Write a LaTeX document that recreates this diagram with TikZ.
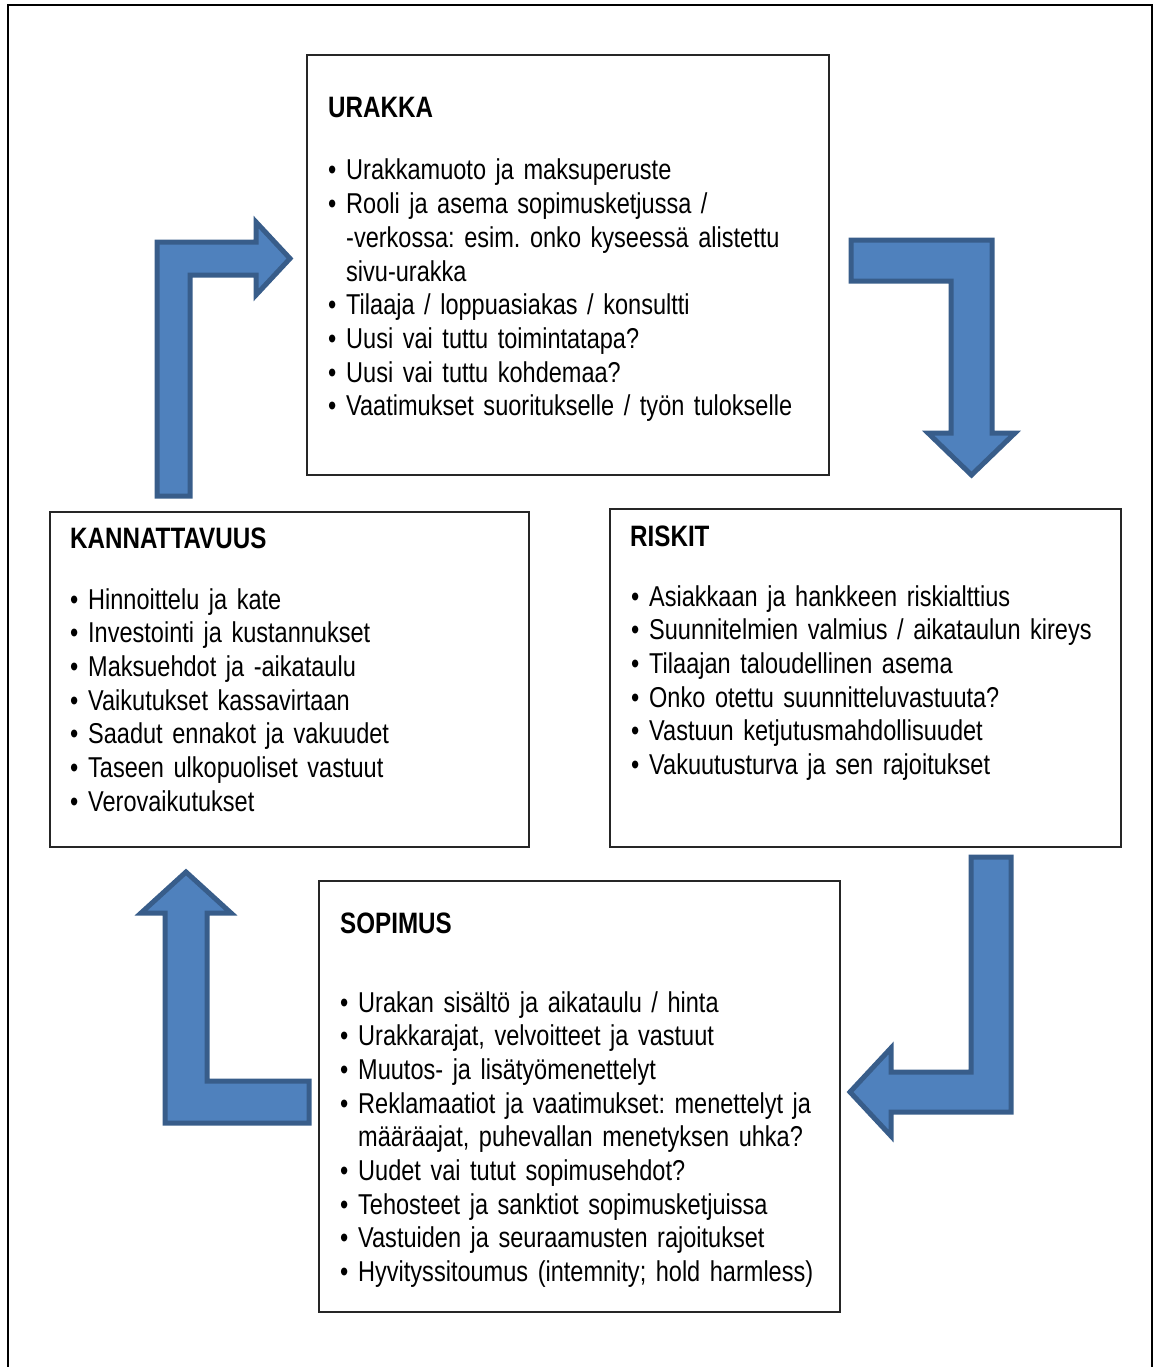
\documentclass[tikz,border=0pt]{standalone}
\usepackage{fontspec}
\setmainfont{Liberation Sans}[FakeStretch=0.82]
\newcommand\itm{\makebox[18pt][l]{•}}
\newcommand\ind{\hspace*{18pt}}
\newcommand\bodyfont{\fontsize{28.7}{33.7}\selectfont\spaceskip=6.4pt\relax\xspaceskip=6.4pt\relax}
\definecolor{arrowfill}{HTML}{4F81BD}
\definecolor{arrowline}{HTML}{385D8A}
\begin{document}
\frenchspacing
\begin{tikzpicture}[x=1pt,y=-1pt,
 box/.style={draw=black!85, line width=1.3pt, fill=white, inner sep=0pt, outer sep=0pt, anchor=north west},
 ttl/.style={font=\bfseries\fontsize{29.5}{33.7}\selectfont, inner sep=0pt, anchor=base west},
 lst/.style={font=\bodyfont, inner sep=0pt, anchor=base west, text width=560pt, align=left},
 barrow/.style={fill=arrowfill, draw=arrowline, line width=5pt, line join=miter}]
\useasboundingbox (0,0) rectangle (1156,1367);
\draw[line width=2.5pt] (8,1367) -- (8,5) -- (1152,5) -- (1152,1367);

% boxes
\node[box, minimum width=522pt, minimum height=420pt] (urakka) at (307,55) {};
\node[box, minimum width=479pt, minimum height=335pt] (kann) at (50,512) {};
\node[box, minimum width=511pt, minimum height=338pt] (riskit) at (610,509) {};
\node[box, minimum width=521pt, minimum height=431pt] (sopimus) at (319,881) {};

% block arrows
\draw[barrow] (157,496) -- (157,242) -- (256,242) -- (256,222) -- (290,258.5) -- (256,295) -- (256,275) -- (190,275) -- (190,496) -- cycle;
\draw[barrow] (851,240) -- (992,240) -- (992,433) -- (1015,433) -- (971.5,475) -- (928,433) -- (951,433) -- (951,281) -- (851,281) -- cycle;
\draw[barrow] (971,857) -- (1011,857) -- (1011,1112) -- (891,1112) -- (891,1136) -- (850,1092) -- (891,1048) -- (891,1072) -- (971,1072) -- cycle;
\draw[barrow] (309,1123) -- (165,1123) -- (165,913) -- (141,913) -- (186,872) -- (231,913) -- (207,913) -- (207,1081) -- (309,1081) -- cycle;

% URAKKA
\node[ttl] (urakkaT) at (328,118) {URAKKA};
\node[lst] (urakkaL) at (328,180) {\itm Urakkamuoto ja maksuperuste\\
\itm Rooli ja asema sopimusketjussa /\\
\ind -verkossa: esim. onko kyseessä alistettu\\
\ind sivu-urakka\\
\itm Tilaaja / loppuasiakas / konsultti\\
\itm Uusi vai tuttu toimintatapa?\\
\itm Uusi vai tuttu kohdemaa?\\
\itm Vaatimukset suoritukselle / työn tulokselle};

% KANNATTAVUUS
\node[ttl] (kannT) at (70,548) {KANNATTAVUUS};
\node[lst] (kannL) at (70,609) {\itm Hinnoittelu ja kate\\
\itm Investointi ja kustannukset\\
\itm Maksuehdot ja -aikataulu\\
\itm Vaikutukset kassavirtaan\\
\itm Saadut ennakot ja vakuudet\\
\itm Taseen ulkopuoliset vastuut\\
\itm Verovaikutukset};

% RISKIT
\node[ttl] (riskitT) at (630,546) {RISKIT};
\node[lst] (riskitL) at (631,606) {\itm Asiakkaan ja hankkeen riskialttius\\
\itm Suunnitelmien valmius / aikataulun kireys\\
\itm Tilaajan taloudellinen asema\\
\itm Onko otettu suunnitteluvastuuta?\\
\itm Vastuun ketjutusmahdollisuudet\\
\itm Vakuutusturva ja sen rajoitukset};

% SOPIMUS
\node[ttl] (sopimusT) at (340,933) {SOPIMUS};
\node[lst] (sopimusL) at (340,1012) {\itm Urakan sisältö ja aikataulu / hinta\\
\itm Urakkarajat, velvoitteet ja vastuut\\
\itm Muutos- ja lisätyömenettelyt\\
\itm Reklamaatiot ja vaatimukset: menettelyt ja\\
\ind määräajat, puhevallan menetyksen uhka?\\
\itm Uudet vai tutut sopimusehdot?\\
\itm Tehosteet ja sanktiot sopimusketjuissa\\
\itm Vastuiden ja seuraamusten rajoitukset\\
\itm Hyvityssitoumus (intemnity; hold harmless)};
\end{tikzpicture}
\end{document}
